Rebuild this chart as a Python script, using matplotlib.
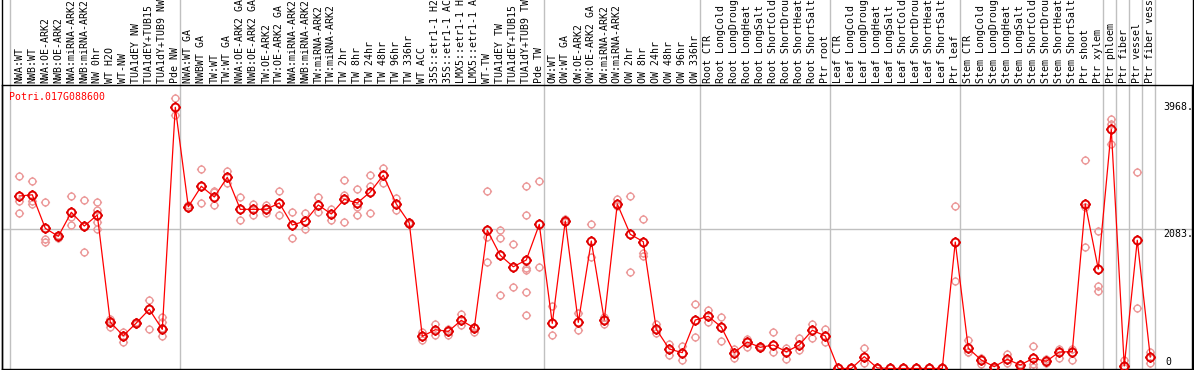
import matplotlib
matplotlib.use("Agg")
import matplotlib.pyplot as plt
from matplotlib.path import Path
from matplotlib.lines import Line2D
import matplotlib.transforms as mtransforms

gene = "Potri.017G088600"

categories = [
    "NWA:WT", "NWB:WT", "NWA:OE-ARK2", "NWB:OE-ARK2", "NWA:miRNA-ARK2", "NWB:miRNA-ARK2",
    "NW 0hr", "WT H2O", "WT-NW", "TUA1dEY NW", "TUA1dEY+TUB15 NW", "TUA1dY+TUB9 NW", "Pde NW",
    "NWA:WT GA", "NWBWT GA", "TW:WT", "TW:WT GA", "NWA:OE-ARK2 GA", "NWB:OE-ARK2 GA",
    "TW:OE-ARK2", "TW:OE-ARK2 GA", "NWA:miRNA-ARK2 GA", "NWB:miRNA-ARK2 GA", "TW:miRNA-ARK2",
    "TW:miRNA-ARK2 GA", "TW 2hr", "TW 8hr", "TW 24hr", "TW 48hr", "TW 96hr", "TW 336hr",
    "WT ACC", "35S::etr1-1 H2O", "35S::etr1-1 ACC", "LMX5::etr1-1 H2O", "LMX5::etr1-1 ACC",
    "WT-TW", "TUA1dEY TW", "TUA1dEY+TUB15 TW", "TUA1dY+TUB9 TW", "Pde TW",
    "OW:WT", "OW:WT GA", "OW:OE-ARK2", "OW:OE-ARK2 GA", "OW:miRNA-ARK2", "OW:miRNA-ARK2 GA",
    "OW 2hr", "OW 8hr", "OW 24hr", "OW 48hr", "OW 96hr", "OW 336hr",
    "Root CTR", "Root LongCold", "Root LongDrought", "Root LongHeat", "Root LongSalt",
    "Root ShortCold", "Root ShortDrought", "Root ShortHeat", "Root ShortSalt", "Ptr root",
    "Leaf CTR", "Leaf LongCold", "Leaf LongDrought", "Leaf LongHeat", "Leaf LongSalt",
    "Leaf ShortCold", "Leaf ShortDrought", "Leaf ShortHeat", "Leaf ShortSalt", "Ptr leaf",
    "Stem CTR", "Stem LongCold", "Stem LongDrought", "Stem LongHeat", "Stem LongSalt",
    "Stem ShortCold", "Stem ShortDrought", "Stem ShortHeat", "Stem ShortSalt", "Ptr shoot",
    "Ptr xylem", "Ptr phloem", "Ptr fiber", "Ptr vessel", "Ptr fiber vessel",
]

means = [
    2572, 2590, 2090, 1971, 2329, 2124, 2289, 690, 489, 678, 882, 584, 3895,
    2412, 2717, 2557, 2851, 2373, 2373, 2373, 2468, 2139, 2199, 2438, 2304, 2522, 2468,
    2632, 2881, 2453, 2169, 480, 578, 554, 718, 604, 2061, 1687, 1517, 1618, 2149,
    673, 2199, 688, 1901, 723, 2453, 2001, 1891, 584, 290, 236, 723,
    778, 619, 236, 394, 316, 350, 250, 350, 570, 485,
    0, 0, 176, 8, 0, 0, 0, 0, 0, 1886,
    301, 127, 27, 137, 52, 152, 107, 246, 250, 2453, 1483,
    3566, 37, 1912, 171,
]

replicates = [
    [2876, 2500, 2320], [2796, 2504, 2450], [2480, 1930, 1881], [1990, 1965, 1945],
    [2575, 2265, 2140], [2510, 2120, 1730], [2485, 2365, 2185, 2080], [736, 710, 625],
    [541, 480, 400], [696, 666], [1025, 586], [766, 691, 601, 486], [4030, 3780],
    [2440, 2395], [2975, 2466], [2650, 2625, 2440], [2950, 2760], [2555, 2210],
    [2460, 2290], [2440, 2325], [2645, 2285], [2335, 1941], [2320, 2076], [2550, 2340],
    [2380, 2220], [2810, 2585, 2185], [2675, 2415, 2290], [2890, 2725, 2320], [2985, 2770],
    [2535, 2370], [2185, 2155], [550, 420], [660, 505], [595, 505], [815, 645], [615, 550],
    [2645, 1955, 1585], [2061, 1941, 1095], [1851, 1210],
    [2725, 2290, 1500, 1462, 1135, 795], [2796, 1512],
    [925, 496], [2230, 2180], [825, 570], [2150, 1657], [775, 660], [2520, 2420],
    [2575, 1433], [2225, 1716, 1680], [660, 525], [370, 200], [340, 125], [965, 470],
    [875, 700], [770, 410], [290, 160], [440, 320], [340, 300], [540, 250], [305, 135],
    [450, 275], [670, 450], [585, 400],
    [0], [0], [300, 85], [0], [0], [0], [0], [0], [0], [2425, 1300],
    [425, 250, 240], [160, 60], [0], [210, 85], [70, 0], [335, 60, 25], [135, 75],
    [295, 155], [295, 130], [3110, 2415, 1805], [2046, 1226, 1150],
    [3727, 3652, 3352], [127, 10], [2930, 896], [250, 85],
]

group_ends = [12, 40, 52, 62, 72, 83, 84, 85, 86, 87]
ytick_values = [3968, 2083, 0]
ytick_labels = ["3968.", "2083.", "0"]

MONO = "DejaVu Sans Mono"
FS = 7.1
HEADER_CHARS = 14  # the header band only has room for this many characters

W, H = 1194, 370
fig = plt.figure(figsize=(W / 100, H / 100), dpi=100)
ax = fig.add_axes([2 / W, 1 / H, 1190 / W, 284 / H])

x = list(range(len(categories)))
ax.set_xlim(-1.331, 90.21)
ax.set_ylim(-7.5, 4227)
ax.set_xticks([])
ax.set_yticks([])
for s in ax.spines.values():
    s.set_color("black")
    s.set_linewidth(1.0)

# marker: open circle with small ticks outside
circ = Path.unit_circle()
verts = list(circ.vertices)
codes = list(circ.codes)
for dx, dy in [(0, 1), (0, -1), (1, 0), (-1, 0)]:
    verts += [(dx * 1.0, dy * 1.0), (dx * 1.35, dy * 1.35)]
    codes += [Path.MOVETO, Path.LINETO]
mk = Path(verts, codes)

trans_xa = mtransforms.blended_transform_factory(ax.transData, ax.transAxes)

# separators (through header as well)
sep_x = [-0.715] + [g + 0.4 for g in group_ends]
for sx in sep_x:
    ax.plot([sx, sx], [0, 1.31], transform=trans_xa, color="#c0c0c0", lw=1.0,
            clip_on=False, zorder=0.5)

# horizontal grid at 2083
ax.axhline(ytick_values[1], color="#c0c0c0", lw=1.0, zorder=0.5)

# replicates
rx, ry = [], []
for i, reps in enumerate(replicates):
    for v in reps:
        rx.append(i)
        ry.append(v)
ax.plot(rx, ry, ls="none", marker=mk, ms=6.6, mfc="none", mec="#ec9a9a", mew=1.0, zorder=2)

# means
ax.plot(x, means, color="#ff0000", lw=0.9, zorder=3)
ax.plot(x, means, ls="none", marker=mk, ms=7.6, mfc="none", mec="#e00000", mew=1.4, zorder=4)

# header labels
for i, c in enumerate(categories):
    ax.text(i, 1.0053, c[:HEADER_CHARS], transform=trans_xa, rotation=90, ha="center",
            va="bottom", family=MONO, fontsize=FS, color="black", clip_on=False)

# gene name
ax.text(-0.77, 4044, gene, color="#ff0000", family=MONO, fontsize=FS, ha="left", va="center")

# y labels on right
ax.text(87.98, ytick_values[0], ytick_labels[0], family=MONO, fontsize=FS, ha="left", va="top")
ax.text(87.98, ytick_values[1], ytick_labels[1], family=MONO, fontsize=FS, ha="left", va="top")
ax.text(88.2, ytick_values[2] + 52, ytick_labels[2], family=MONO, fontsize=FS, ha="left", va="baseline")

# outer borders extending into header
fig.add_artist(Line2D([1.5 / W, 1.5 / W], [0, 1], transform=fig.transFigure, color="black", lw=1.0))
fig.add_artist(Line2D([1192.5 / W, 1192.5 / W], [0, 1], transform=fig.transFigure, color="black", lw=1.0))

fig.savefig("out.png", dpi=100)
